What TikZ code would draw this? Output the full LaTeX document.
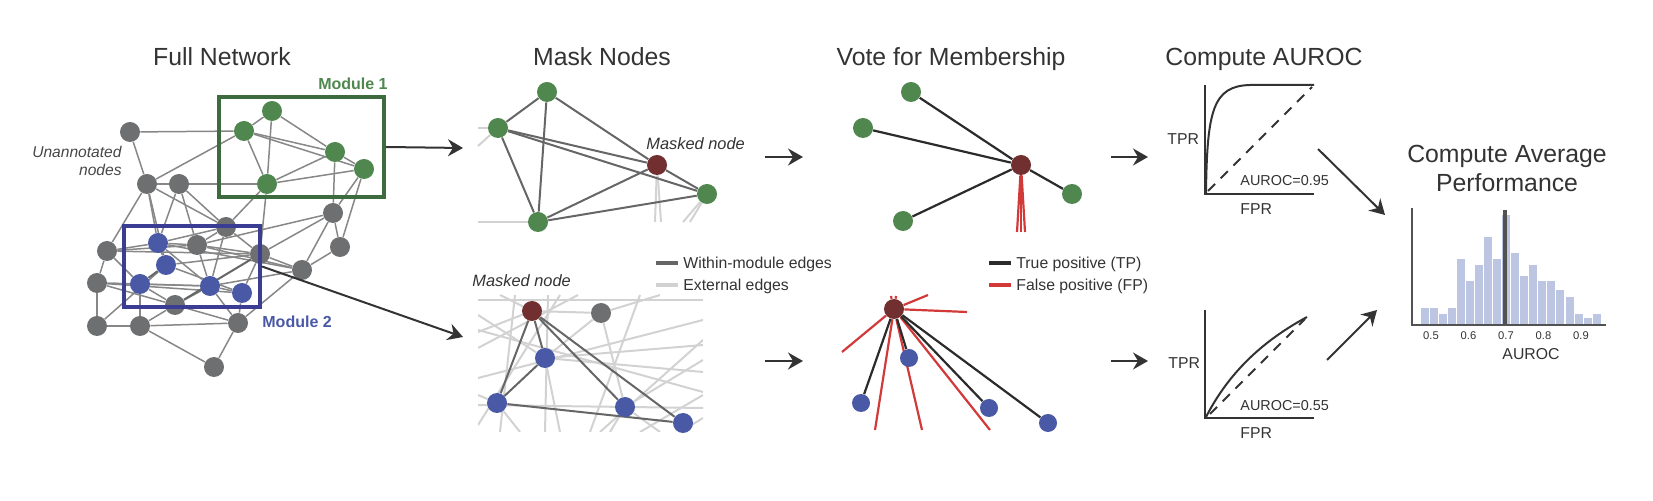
\documentclass[tikz,border=0pt]{standalone}
\usepackage{fontspec}
\setmainfont{Liberation Sans}
\usetikzlibrary{arrows.meta}
\pgfdeclarelayer{background}
\pgfsetlayers{background,main}

\definecolor{txt}{HTML}{333333}
\definecolor{modgreen}{HTML}{4F874F}
\definecolor{boxgreen}{HTML}{3D6B3D}
\definecolor{modblue}{HTML}{4A59A6}
\definecolor{boxblue}{HTML}{3B3C93}
\definecolor{nodegray}{HTML}{6E6F71}
\definecolor{maskred}{HTML}{722F2F}
\definecolor{edgegray}{HTML}{878787}
\definecolor{inedge}{HTML}{666666}
\definecolor{exedge}{HTML}{D2D2D2}
\definecolor{tpedge}{HTML}{2B2B2B}
\definecolor{fpedge}{HTML}{D23A3A}
\definecolor{barblue}{HTML}{BCC6E2}

\begin{document}
\begin{tikzpicture}[x=0.5pt,y=-0.5pt,
  every node/.style={text=txt,inner sep=0pt},
  headline/.style={font=\fontsize{12.4}{14.5}\selectfont,anchor=base},
  lbl/.style={font=\fontsize{7.9}{9.5}\selectfont,anchor=base west},
  ticklbl/.style={font=\fontsize{5.6}{6.5}\selectfont,anchor=base},
  vtx/.style={circle,minimum size=10pt},
  gnode/.style={vtx,fill=modgreen},
  bnode/.style={vtx,fill=modblue},
  nnode/.style={vtx,fill=nodegray},
  mnode/.style={vtx,fill=maskred},
  netline/.style={draw=edgegray,line width=0.75pt},
  within/.style={draw=inedge,line width=1pt},
  extern/.style={draw=exedge,line width=1pt},
  tpline/.style={draw=tpedge,line width=1.1pt},
  fpline/.style={draw=fpedge,line width=1.1pt},
  arrow/.style={draw=txt,line width=1pt,-{Stealth[length=7.5pt,width=8.5pt,inset=2.5pt]}},
  rocaxis/.style={draw=txt,line width=1pt}]

\useasboundingbox (0,0) rectangle (1653,501);

% titles
\node[headline] (tfull) at (222,66) {Full Network};
\node[headline] (tmask) at (602,66) {Mask Nodes};
\node[headline] (tvote) at (951,66) {Vote for Membership};
\node[headline] (troc) at (1264,66) {Compute AUROC};
\node[headline,anchor=north,align=center] (thist) at (1507,145) {Compute Average\\Performance};

% full network
\foreach \n/\x/\y in {n1/130/132,n2/147/184,n3/179/184,n4/333/213,n5/226/227,n6/340/247,
    n7/197/245,n8/107/251,n9/260/254,n10/302/270,n11/97/283,n12/175/305,n13/97/326,
    n14/140/326,n15/238/323,n16/214/367}
  \node[nnode] (\n) at (\x,\y) {};
\foreach \n/\x/\y in {g1/272/111,g2/244/131,g3/335/152,g4/364/169,g5/267/184}
  \node[gnode] (\n) at (\x,\y) {};
\foreach \n/\x/\y in {b1/158/243,b2/166/265,b3/140/284,b4/210/286,b5/242/293}
  \node[bnode] (\n) at (\x,\y) {};

\begin{pgfonlayer}{background}
\foreach \a/\b in {g1/g2,g1/g5,g1/g3,g2/g3,g2/g4,g2/g5,g3/g4,g5/g3,g5/g4,g3/n4,g4/n4,g4/n6,
    n1/g2,n1/n2,g2/n2,n3/g5,n2/n3,g5/n5,g5/n9,n4/n6,n4/n9,n4/n10,n6/n10,n2/n8,n2/b1,
    n2/b2,n3/b1,n3/n5,n3/n7,n5/n9,n5/b1,n5/n7,n5/b4,n8/n11,n8/b1,n8/b3,n8/n7,n11/n13,
    n11/b3,n11/n12,n11/b4,n13/n14,n13/b2,n14/b3,n14/n12,n14/n16,n14/n15,n12/b4,n12/n15,
    n15/b5,n15/n16,n15/b4,n15/n10,n9/b5,n9/n10,n9/b2,n10/b4,n7/b1,n7/b4,n7/n9,b1/b2,
    b1/b4,b2/b5,b3/b4,b4/b5,b3/n12,b1/n10,n7/n10,n8/n9,n11/b5,n2/n5,n4/n7}
  \draw[netline] (\a) -- (\b);
\draw[within] (n12) -- (n9);
\draw[within] (b2) -- (b3);
\end{pgfonlayer}

\node[draw=boxgreen,line width=2pt,minimum width=82.5pt,minimum height=50pt] (box1) at (301.5,147) {};
\node[draw=boxblue,line width=2pt,minimum width=68pt,minimum height=40.5pt] (box2) at (192,266.5) {};
\node[font=\bfseries\fontsize{8}{9.6}\selectfont,text=modgreen,anchor=base east] (mod1) at (388,90) {Module 1};
\node[font=\bfseries\fontsize{8}{9.6}\selectfont,text=modblue,anchor=base west] (mod2) at (262,328) {Module 2};
\node[font=\itshape\fontsize{7.8}{9}\selectfont,text=txt!90,anchor=north east,align=right] (unann) at (122,146) {Unannotated\\nodes};

% arrows between panels
\coordinate (a1e) at (463,148);
\coordinate (a2e) at (463,337);
\draw[arrow] (box1.east) -- (a1e);
\draw[arrow] (box2.east) -- (a2e);
\coordinate (a3s) at (765,157); \coordinate (a3e) at (803,157);
\coordinate (a4s) at (765,361); \coordinate (a4e) at (803,361);
\coordinate (a5s) at (1111,157); \coordinate (a5e) at (1148,157);
\coordinate (a6s) at (1111,361); \coordinate (a6e) at (1148,361);
\coordinate (a7s) at (1318,149); \coordinate (a7e) at (1385,215);
\coordinate (a8s) at (1327,360); \coordinate (a8e) at (1377,310);
\foreach \s/\e in {a3s/a3e,a4s/a4e,a5s/a5e,a6s/a6e,a7s/a7e,a8s/a8e}
  \draw[arrow] (\s) -- (\e);

% mask nodes, module 1
\foreach \n/\x/\y in {m1/547/92,m2/498/128,m3/707/194,m4/538/222}
  \node[gnode] (\n) at (\x,\y) {};
\node[mnode] (mask1) at (657,165) {};
\node[lbl,font=\itshape\fontsize{8.2}{9.8}\selectfont] (masklbl1) at (646,150) {Masked node};
\foreach \n/\x/\y in {e1/478/128,e2/478/146,e3/478/222,e4/655/222,e5/661/222,e6/690/222,e7/683/222}
  \coordinate (\n) at (\x,\y);
\begin{pgfonlayer}{background}
\foreach \a/\b in {m2/e1,m2/e2,m4/e3,mask1/e4,mask1/e5,m3/e6,m3/e7}
  \draw[extern] (\a) -- (\b);
\foreach \a/\b in {m1/m2,m1/m4,m1/mask1,m2/mask1,m2/m3,m2/m4,m4/mask1,m4/m3,mask1/m3}
  \draw[within] (\a) -- (\b);
\end{pgfonlayer}

% mask nodes, module 2
\node[mnode] (mask2) at (532,311) {};
\node[nnode] (mg) at (601,313) {};
\foreach \n/\x/\y in {mb1/545/358,mb2/497/403,mb3/625/407,mb4/683/423}
  \node[bnode] (\n) at (\x,\y) {};
\node[lbl,font=\itshape\fontsize{8.2}{9.8}\selectfont] (masklbl2) at (472,287) {Masked node};
\begin{pgfonlayer}{background}
\begin{scope}
\clip (478,295) rectangle (703,432);
\foreach \p/\q in {{(478,348)}/{(578,295)},{(478,330)}/{(703,392)},{(478,378)}/{(703,320)},
    {(478,405)}/{(703,408)},{(478,425)}/{(560,295)},{(500,432)}/{(515,295)},
    {(545,432)}/{(548,295)},{(590,432)}/{(640,295)},{(640,432)}/{(703,395)},
    {(680,432)}/{(703,418)},{(478,300)}/{(703,300)},{(600,432)}/{(703,340)}}
  \draw[extern] \p -- \q;
\foreach \a/\b in {mg/mb3,mg/mb1,mask2/mg}
  \draw[extern] (\a) -- (\b);
\draw[extern] (mg) -- (660,295);
\draw[extern] (mb1) -- (703,345);
\draw[extern] (mb1) -- (703,372);
\draw[extern] (mb1) -- (478,315);
\draw[extern] (mb1) -- (560,432);
\draw[extern] (mb3) -- (703,360);
\draw[extern] (mb3) -- (660,432);
\draw[extern] (mb3) -- (610,432);
\draw[extern] (mb2) -- (478,395);
\draw[extern] (mb2) -- (520,432);
\draw[extern] (mask2) -- (478,332);
\draw[extern] (mask2) -- (500,295);
\end{scope}
\foreach \a/\b in {mask2/mb1,mask2/mb2,mask2/mb3,mask2/mb4,mb1/mb2,mb2/mb4}
  \draw[within] (\a) -- (\b);
\end{pgfonlayer}

% legend for edges
\node[lbl] (leg1) at (683,269) {Within-module edges};
\node[lbl] (leg2) at (683,291) {External edges};
\draw[within,line width=2pt] ([xshift=-2.5pt,yshift=3pt]leg1.base west) -- ++(-22,0);
\draw[extern,line width=2pt] ([xshift=-2.5pt,yshift=3pt]leg2.base west) -- ++(-22,0);

% vote, module 1
\foreach \n/\x/\y in {v1/911/92,v2/863/128,v3/1072/194,v4/903/221}
  \node[gnode] (\n) at (\x,\y) {};
\node[mnode] (vm1) at (1021,165) {};
\foreach \n/\x/\y in {r1/1017/232,r2/1021/232,r3/1025/232}
  \coordinate (\n) at (\x,\y);
\begin{pgfonlayer}{background}
\foreach \n in {v1,v2,v3,v4}
  \draw[tpline] (vm1) -- (\n);
\foreach \n in {r1,r2,r3}
  \draw[fpline] (vm1) -- (\n);
\end{pgfonlayer}

% vote, module 2
\node[mnode] (vm2) at (894,309) {};
\foreach \n/\x/\y in {vb1/909/358,vb2/861/403,vb3/989/408,vb4/1048/423}
  \node[bnode,minimum size=9pt] (\n) at (\x,\y) {};
\foreach \n/\x/\y in {f1/928/295,f2/967/312,f3/891/296,f4/896/296,f5/842/352,f6/875/430,f7/922/430,f8/990/430}
  \coordinate (\n) at (\x,\y);
\begin{pgfonlayer}{background}
\foreach \n in {f1,f2,f3,f4,f5,f6,f7,f8}
  \draw[fpline] (vm2) -- (\n);
\foreach \n in {vb1,vb2,vb3,vb4}
  \draw[tpline] (vm2) -- (\n);
\end{pgfonlayer}

% legend for votes
\node[lbl] (leg3) at (1016,269) {True positive (TP)};
\node[lbl] (leg4) at (1016,291) {False positive (FP)};
\draw[tpline,line width=2pt] ([xshift=-2.5pt,yshift=3pt]leg3.base west) -- ++(-22,0);
\draw[fpline,line width=2pt] ([xshift=-2.5pt,yshift=3pt]leg4.base west) -- ++(-22,0);

% ROC curves
\draw[rocaxis] (1205,85) -- (1205,194) -- (1314,194);
\draw[rocaxis] (1206,193) .. controls (1207,110) and (1213,86) .. (1250,85) -- (1314,85);
\draw[rocaxis,dash pattern=on 5pt off 4pt] (1208,191) -- (1312,87);
\node[lbl] (tpr1) at (1167,145) {TPR};
\node[lbl] (fpr1) at (1240,215) {FPR};
\node[lbl,font=\fontsize{7.2}{8.6}\selectfont] (auc1) at (1240,186) {AUROC=0.95};

\draw[rocaxis] (1205,310) -- (1205,418) -- (1314,418);
\draw[rocaxis] (1206,417) .. controls (1225,380) and (1255,345) .. (1307,317);
\draw[rocaxis,dash pattern=on 5pt off 4pt] (1210,414) -- (1305,319);
\node[lbl] (tpr2) at (1168,369) {TPR};
\node[lbl] (fpr2) at (1240,439) {FPR};
\node[lbl,font=\fontsize{7.2}{8.6}\selectfont] (auc2) at (1240,411) {AUROC=0.55};

% histogram
\foreach \h [count=\i from 0] in {308,308,314,308,259,281,265,237,259,215,253,276,265,281,281,290,297,314,318,314}
  \fill[barblue] (1421+\i*9.03,\h) rectangle ++(8,324-\h);
\draw[draw=txt!85,line width=1.2pt] (1412,208) -- (1412,325) -- (1606,325);
\draw[draw=txt!85,line width=1.6pt] (1505,210) -- (1505,325);
\foreach \v [count=\k from 0] in {0.5,0.6,0.7,0.8,0.9}
  \node[ticklbl] (tick\k) at (1431+\k*37.5,340) {\v};
\node[lbl,anchor=base] (haxis) at (1531,360) {AUROC};

\end{tikzpicture}
\end{document}
